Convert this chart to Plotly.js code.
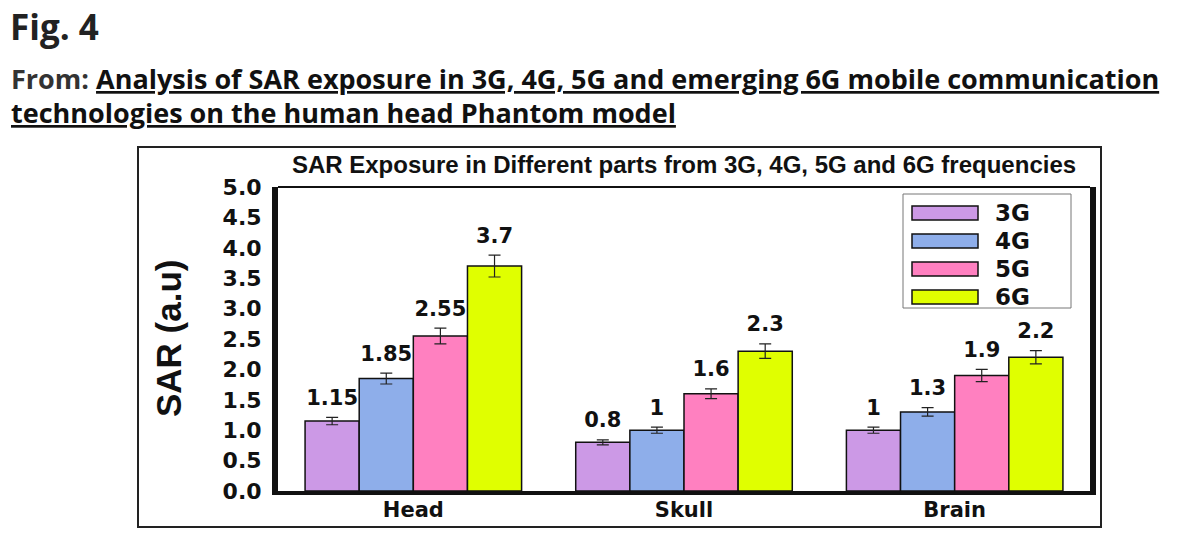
<!DOCTYPE html>
<html>
<head>
<meta charset="utf-8">
<script src="https://cdn.plot.ly/plotly-3.0.1.min.js"></script>
<style>
  html, body { margin: 0; padding: 0; background: #fff; }
  #chart { width: 1200px; height: 538px; }
</style>
</head>
<body>
<div id="chart"></div>
<script>
"use strict";

// values
const parts = ['Head', 'Skull', 'Brain'];
const seriesNames = ['3G', '4G', '5G', '6G'];
const sar3G = [1.15, 0.8, 1.0];
const sar4G = [1.85, 1.0, 1.3];
const sar5G = [2.55, 1.6, 1.9];
const sar6G = [3.7, 2.3, 2.2];
const err3G = [0.06, 0.04, 0.05];
const err4G = [0.09, 0.05, 0.07];
const err5G = [0.13, 0.08, 0.10];
const err6G = [0.18, 0.12, 0.11];
const valueLabels3G = ['1.15', '0.8', '1'];
const valueLabels4G = ['1.85', '1', '1.3'];
const valueLabels5G = ['2.55', '1.6', '1.9'];
const valueLabels6G = ['3.7', '2.3', '2.2'];
const yTicks = [0, 0.5, 1, 1.5, 2, 2.5, 3, 3.5, 4, 4.5, 5];
const yTickText = ['0.0', '0.5', '1.0', '1.5', '2.0', '2.5', '3.0', '3.5', '4.0', '4.5', '5.0'];

const colors = ['#cc99e6', '#8eaeea', '#ff80c0', '#e0ff00'];
const values = [sar3G, sar4G, sar5G, sar6G];
const errors = [err3G, err4G, err5G, err6G];
const valueLabels = [valueLabels3G, valueLabels4G, valueLabels5G, valueLabels6G];

// plot area in page pixels
const W = 1200, H = 538;
const plotL = 278, plotR = 1090, plotT = 187, plotB = 491;
const px2x = px => (px - plotL) / (plotR - plotL);
const py2y = py => (plotB - py) / (plotB - plotT);

const barW = 0.2;
const boldWide = 'DejaVu Sans, Verdana, sans-serif';
const head = '"Open Sans", "Noto Sans", sans-serif';

let traces = [];
let shapes = [];
let annotations = [];

seriesNames.forEach((name, s) => {
  let xs = parts.map((p, i) => i + (s - 1.5) * barW);
  traces.push({
    type: 'bar',
    name: name,
    x: xs,
    y: values[s],
    width: barW,
    marker: {color: colors[s], line: {color: '#111', width: 1.5}},
    error_y: {type: 'data', array: errors[s], visible: true, color: '#222', thickness: 1.2, width: 6},
    showlegend: false,
    hoverinfo: 'y'
  });
  traces.push({
    type: 'scatter',
    mode: 'markers+text',
    x: xs,
    y: values[s].map((v, i) => v + errors[s][i]),
    text: valueLabels[s],
    textposition: 'top center',
    marker: {size: 10, opacity: 0},
    textfont: {family: boldWide, size: 21, color: '#111', weight: 'bold'},
    showlegend: false,
    hoverinfo: 'skip'
  });
});

// legend drawn as a framed box with wide swatches
shapes.push({type: 'rect', xref: 'paper', yref: 'paper',
  x0: px2x(903), x1: px2x(1071), y0: py2y(308), y1: py2y(194),
  line: {color: '#777', width: 1}, fillcolor: '#fff'});
const legendRows = [213, 241, 269, 297];
seriesNames.forEach((name, s) => {
  let yc = legendRows[s];
  shapes.push({type: 'rect', xref: 'paper', yref: 'paper',
    x0: px2x(912), x1: px2x(978), y0: py2y(yc + 7), y1: py2y(yc - 7),
    line: {color: '#111', width: 1.5}, fillcolor: colors[s]});
  annotations.push({xref: 'paper', yref: 'paper', x: px2x(993), y: py2y(yc),
    xanchor: 'left', yanchor: 'middle', showarrow: false, text: name,
    font: {family: boldWide, size: 23, color: '#111', weight: 'bold'}});
});

// top border of plot area (thin) and outer frame
shapes.push({type: 'line', xref: 'paper', yref: 'paper', x0: 0, x1: 1, y0: 1, y1: 1,
  line: {color: '#111', width: 2}});
shapes.push({type: 'rect', xref: 'paper', yref: 'paper',
  x0: px2x(138), x1: px2x(1101), y0: py2y(527), y1: py2y(147),
  line: {color: '#222', width: 2}});

// headings
annotations.push({xref: 'paper', yref: 'paper', x: px2x(9), y: py2y(26),
  xanchor: 'left', yanchor: 'middle', showarrow: false, text: 'Fig. 4',
  borderpad: 0,
  font: {family: head, size: 35, color: '#222', weight: 'bold'}});
annotations.push({xref: 'paper', yref: 'paper', x: px2x(9), y: py2y(79),
  xanchor: 'left', yanchor: 'middle', showarrow: false,
  text: '<span style="color:#333">From: </span><u>Analysis of SAR exposure in 3G, 4G, 5G and emerging 6G mobile communication</u>',
  font: {family: head, size: 27, color: '#111', weight: 'bold'}});
annotations.push({xref: 'paper', yref: 'paper', x: px2x(9), y: py2y(112),
  xanchor: 'left', yanchor: 'middle', showarrow: false,
  text: '<u>technologies on the human head Phantom model</u>',
  font: {family: head, size: 27, color: '#111', weight: 'bold'}});

// y axis title
annotations.push({xref: 'paper', yref: 'paper', x: px2x(168), y: py2y(338),
  xanchor: 'center', yanchor: 'middle', showarrow: false, textangle: -90,
  text: 'SAR (a.u)',
  font: {family: 'Liberation Sans, Arial, sans-serif', size: 35, color: '#111', weight: 'bold'}});

const layout = {
  width: W,
  height: H,
  margin: {l: plotL, r: W - plotR, t: plotT, b: H - plotB, pad: 0},
  paper_bgcolor: '#fff',
  plot_bgcolor: '#fff',
  title: {
    text: 'SAR Exposure in Different parts from 3G, 4G, 5G and 6G frequencies',
    xref: 'container', yref: 'container',
    x: 684 / W, y: 1 - 165 / H, xanchor: 'center', yanchor: 'middle',
    font: {family: 'Liberation Sans Narrow, Arial Narrow, sans-serif', size: 24, color: '#111', weight: 'bold'}
  },
  xaxis: {
    range: [-0.5, 2.5],
    tickvals: [0, 1, 2],
    ticktext: parts,
    showgrid: false,
    zeroline: false,
    showline: true,
    linecolor: '#111',
    linewidth: 4,
    ticks: '',
    ticklabelstandoff: -3,
    tickfont: {family: boldWide, size: 21, color: '#111', weight: 'bold'},
    fixedrange: true
  },
  yaxis: {
    range: [0, 5],
    tickvals: yTicks,
    ticktext: yTickText,
    showgrid: false,
    zeroline: false,
    showline: true,
    mirror: true,
    linecolor: '#111',
    linewidth: 6,
    ticks: '',
    ticklabelstandoff: 6,
    tickfont: {family: boldWide, size: 22, color: '#111', weight: 'bold'},
    fixedrange: true
  },
  bargap: 0.2,
  showlegend: false,
  shapes: shapes,
  annotations: annotations
};

Plotly.newPlot('chart', traces, layout, {displayModeBar: false, staticPlot: true});
</script>
</body>
</html>
